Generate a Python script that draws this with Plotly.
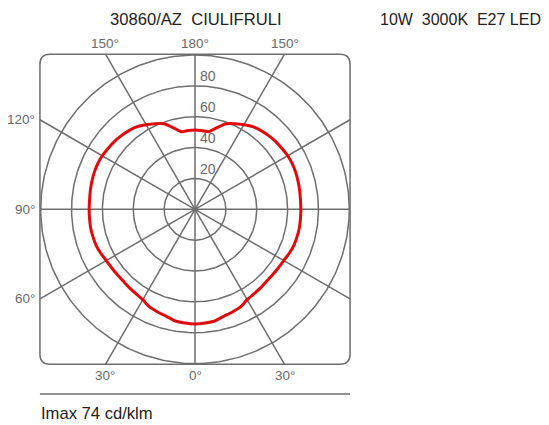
import numpy as np
import plotly.graph_objects as go

# ---------------- data ----------------
title_left = "30860/AZ  CIULIFRULI"
title_right = "10W  3000K  E27 LED"
imax_text = "Imax 74 cd/klm"

# polar angle (0 = nadir, bottom; 180 = zenith, top), symmetric curve
angles_deg = [0, 5, 10, 15, 20, 25, 30, 35, 40, 45, 50, 55, 60, 65, 70, 75, 80, 85, 90,
              95, 100, 105, 110, 115, 120, 125, 130, 135, 140, 145, 150, 155, 160, 165,
              170, 175, 180]
intensity = [74.3, 74.0, 73.5, 71.8, 70.8, 69.8, 67.6, 66.8, 66.3, 65.8, 65.8, 66.0, 66.4,
             67.4, 68.2, 68.5, 68.7, 68.6, 68.6, 68.6, 68.9, 69.2, 69.5, 69.6, 69.4, 68.8,
             68.3, 67.5, 66.6, 65.4, 63.3, 61.2, 59.0, 54.8, 51.0, 51.2, 51.4]

ring_values = [20, 40, 60, 80, 100]
ring_labels = ["20", "40", "60", "80"]
spoke_angles = [0, 30, 60, 90, 120, 150, 180, 210, 240, 270, 300, 330]
top_labels = ["150°", "180°", "150°"]
left_labels = ["120°", "90°", "60°"]
bottom_labels = ["30°", "0°", "30°"]

# ---------------- layout constants ----------------
OFF = 8                       # page body margin
W, H = 549 - OFF, 425 - OFF
K = 1.543                     # pixels per cd/klm unit
CX, CY = 195.0 - OFF, 209.3 - OFF  # centre in figure pixels
FRAME = 100.5                 # half size of rounded frame (units)
CORNER = 6.5                  # corner radius (units)
GRID = "#6e6e6e"
LABEL = "#686868"
TEXT = "#222222"
FONT = "Liberation Sans, Arial, sans-serif"


def ux(page_x):
    return (page_x - OFF - CX) / K


def uy(page_y):
    return (CY - (page_y - OFF)) / K


xr = [-CX / K, (W - CX) / K]
yr = [-(H - CY) / K, CY / K]

fig = go.Figure()

# rings
t = np.linspace(0, 2 * np.pi, 361)
for rv in ring_values:
    fig.add_trace(go.Scatter(x=rv * np.cos(t), y=rv * np.sin(t), mode="lines",
                             line=dict(color=GRID, width=1.5), hoverinfo="skip",
                             showlegend=False))

# spokes to the square frame
sx, sy = [], []
for a in spoke_angles:
    ar = np.radians(a)
    s, c = np.sin(ar), np.cos(ar)
    L = FRAME / max(abs(s), abs(c))
    sx += [0, -L * s, None]
    sy += [0, -L * c, None]
fig.add_trace(go.Scatter(x=sx, y=sy, mode="lines", line=dict(color=GRID, width=1.5),
                         hoverinfo="skip", showlegend=False))

# intensity curve
th = np.radians(np.array(angles_deg, dtype=float))
r = np.array(intensity)
xl = -r * np.sin(th)
yl = -r * np.cos(th)
cx_ = np.concatenate([xl, -xl[::-1][1:]])
cy_ = np.concatenate([yl, yl[::-1][1:]])
fig.add_trace(go.Scatter(x=cx_, y=cy_, mode="lines",
                         line=dict(color="#e10a0a", width=3, shape="spline", smoothing=0.6),
                         hoverinfo="skip", showlegend=False))

# rounded frame
F, C = FRAME, CORNER
path = (f"M {-F + C},{F} L {F - C},{F} Q {F},{F} {F},{F - C} "
        f"L {F},{-F + C} Q {F},{-F} {F - C},{-F} "
        f"L {-F + C},{-F} Q {-F},{-F} {-F},{-F + C} "
        f"L {-F},{F - C} Q {-F},{F} {-F + C},{F} Z")
fig.add_shape(type="path", path=path, xref="x", yref="y",
              line=dict(color=GRID, width=1.5))

# baseline under the frame
base_y = uy(394)
fig.add_shape(type="line", xref="x", yref="y", x0=-F, x1=F, y0=base_y, y1=base_y,
              line=dict(color=GRID, width=1.5))

ann = []
off = FRAME * np.tan(np.radians(30))
for lab, xx in zip(top_labels, [-off, 0, off]):
    ann.append(dict(x=xx, y=uy(43), text=lab, xanchor="center", yanchor="middle",
                    font=dict(size=13.5, color=LABEL, family=FONT)))
for lab, yy in zip(left_labels, [off, 0, -off]):
    ann.append(dict(x=ux(37), y=yy, text=lab, xanchor="right", yanchor="middle",
                    font=dict(size=13.5, color=LABEL, family=FONT)))
for lab, xx in zip(bottom_labels, [-off, 0, off]):
    ann.append(dict(x=xx, y=uy(375), text=lab, xanchor="center", yanchor="middle",
                    font=dict(size=13.5, color=LABEL, family=FONT)))
for lab, rv in zip(ring_labels, ring_values):
    ann.append(dict(x=3 / K, y=rv + 9.5 / K, text=lab, xanchor="left", yanchor="middle",
                    font=dict(size=14, color=LABEL, family=FONT)))
ann.append(dict(x=ux(196), y=uy(19), text=title_left, xanchor="center", yanchor="middle",
                font=dict(size=16.6, color=TEXT, family=FONT)))
ann.append(dict(x=ux(378), y=uy(19), text=title_right, xanchor="left",
                yanchor="middle", font=dict(size=16, color=TEXT, family=FONT)))
ann.append(dict(x=ux(39), y=uy(413), text=imax_text, xanchor="left",
                yanchor="middle", font=dict(size=16.6, color=TEXT, family=FONT)))
for a in ann:
    a.update(xref="x", yref="y", showarrow=False)

fig.update_layout(
    width=W, height=H, autosize=False,
    margin=dict(l=0, r=0, t=0, b=0, pad=0),
    paper_bgcolor="white", plot_bgcolor="white",
    xaxis=dict(range=xr, visible=False, fixedrange=True),
    yaxis=dict(range=yr, visible=False, fixedrange=True),
    annotations=ann,
    showlegend=False,
)

fig.write_html("out.html")
